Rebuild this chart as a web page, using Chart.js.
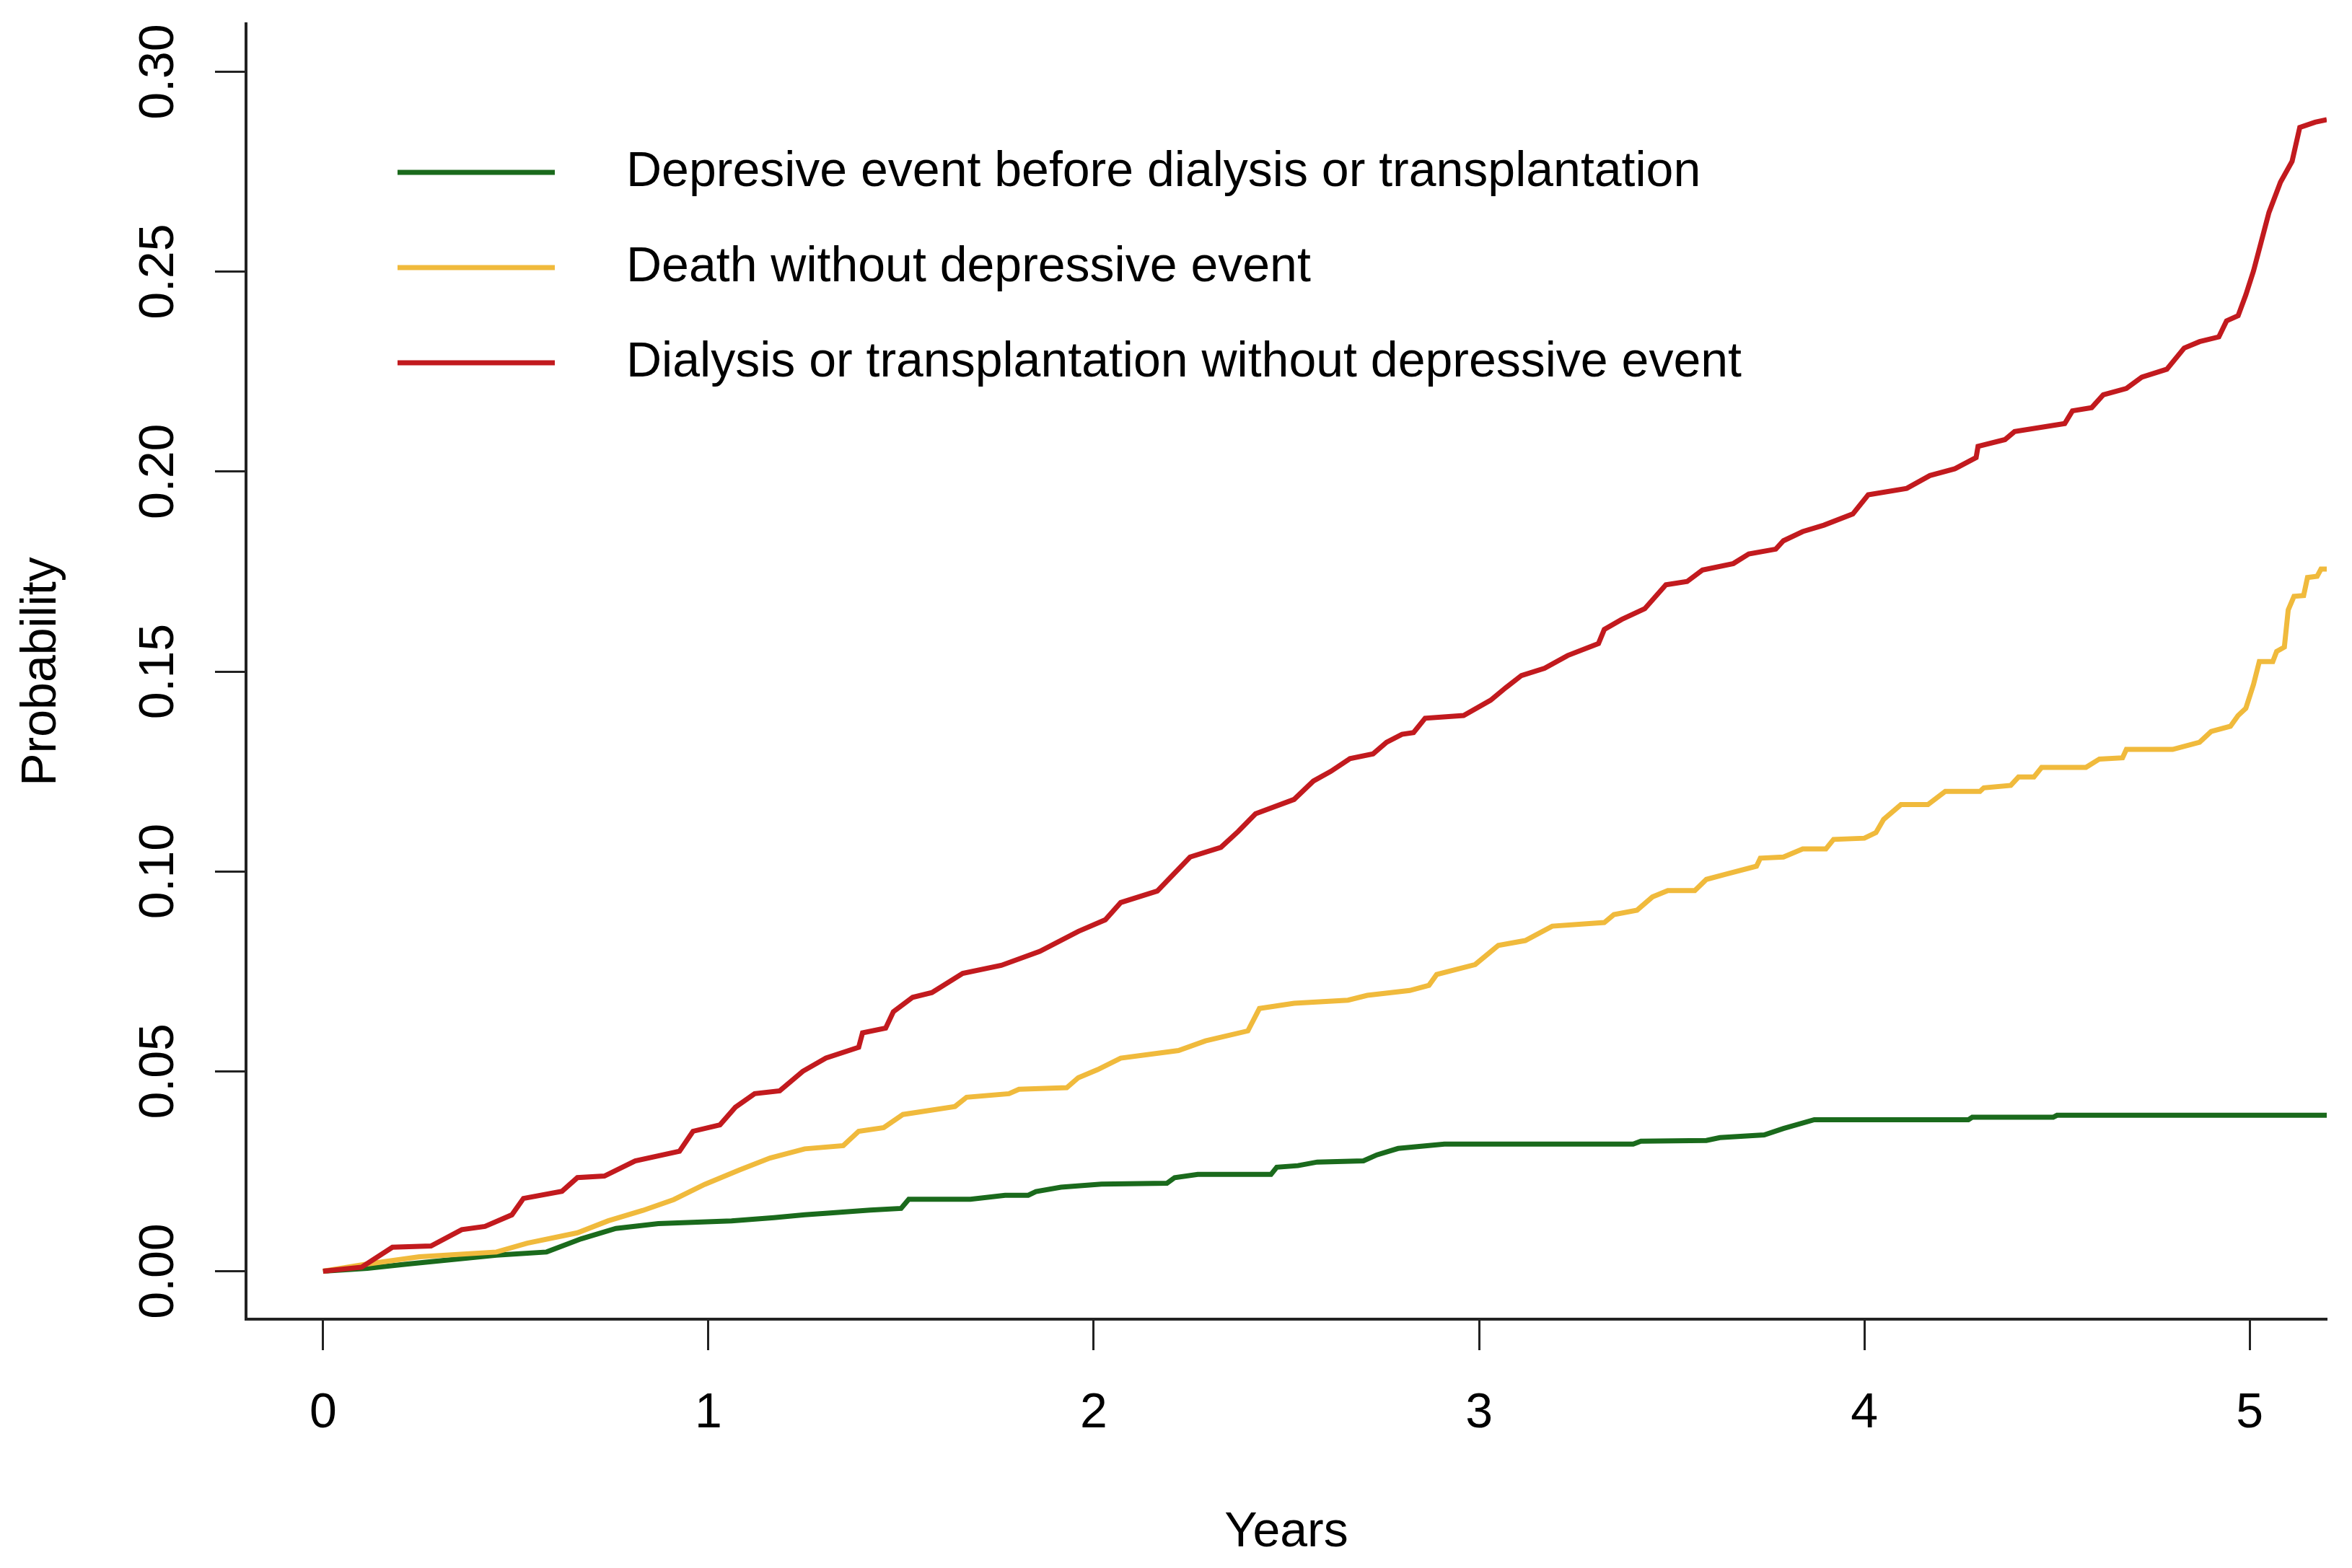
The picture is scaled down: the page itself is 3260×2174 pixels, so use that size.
<!DOCTYPE html>
<html>
<head>
<meta charset="utf-8">
<title>Cumulative incidence</title>
<script src="https://cdn.jsdelivr.net/npm/chart.js@4.4.0/dist/chart.umd.min.js"></script>
<style>
  html, body { margin: 0; padding: 0; background: #fff; }
  #myChart { display: block; }
</style>
</head>
<body>
<canvas id="myChart" width="3260" height="2174"></canvas>
<script>
// series labels (legend)
var seriesLabels = [
    'Depresive event before dialysis or transplantation',
    'Death without depressive event',
    'Dialysis or transplantation without depressive event'
];

// x axis ticks (years) and y axis ticks (probability)
var xTicks = [0, 1, 2, 3, 4, 5];
var yTicks = [0, 0.05, 0.10, 0.15, 0.20, 0.25, 0.30];

// green: depresive event
var greenYears = [0, 0.115, 0.22, 0.45, 0.58, 0.67, 0.76, 0.87, 1.06, 1.17, 1.25, 1.31, 1.42, 1.50, 1.52, 1.68, 1.77, 1.83, 1.85, 1.915,
    2.02, 2.19, 2.21, 2.27, 2.46, 2.475, 2.53, 2.58, 2.70, 2.735, 2.79, 2.91, 3.40, 3.42, 3.59, 3.625, 3.74, 3.79, 3.87, 4.27,
    4.28, 4.49, 4.50, 5.20];
var greenProb = [0, 0.0007, 0.0018, 0.004, 0.0048, 0.0081, 0.0107, 0.0119, 0.0126, 0.0134, 0.0141, 0.0145, 0.0153, 0.0157, 0.018, 0.018, 0.019, 0.019, 0.0199, 0.021,
    0.0218, 0.022, 0.0234, 0.0242, 0.0242, 0.026, 0.0264, 0.0273, 0.0276, 0.0291, 0.0307, 0.0318, 0.0318, 0.0325, 0.0327, 0.0334, 0.0341, 0.0357, 0.0379, 0.0379,
    0.0385, 0.0385, 0.039, 0.039];

// yellow: death without depressive event
var yellowYears = [0, 0.115, 0.25, 0.45, 0.53, 0.66, 0.74, 0.83, 0.91, 0.99, 1.08, 1.16, 1.25, 1.35, 1.39, 1.455, 1.505, 1.64, 1.67, 1.78,
    1.806, 1.93, 1.96, 2.01, 2.07, 2.22, 2.29, 2.40, 2.43, 2.52, 2.66, 2.71, 2.82, 2.87, 2.89, 2.99, 3.05, 3.12, 3.19, 3.325,
    3.35, 3.41, 3.45, 3.49, 3.56, 3.59, 3.64, 3.72, 3.73, 3.79, 3.84, 3.90, 3.92, 4.00, 4.03, 4.05, 4.095, 4.165, 4.21, 4.30,
    4.31, 4.38, 4.40, 4.44, 4.46, 4.575, 4.61, 4.67, 4.68, 4.80, 4.87, 4.90, 4.95, 4.97, 4.99, 5.01, 5.025, 5.06, 5.07, 5.09,
    5.10, 5.115, 5.14, 5.15, 5.175, 5.185, 5.20];
var yellowProb = [0, 0.0018, 0.0036, 0.0048, 0.007, 0.0096, 0.0126, 0.0152, 0.0179, 0.0217, 0.0253, 0.0283, 0.0306, 0.0314, 0.035, 0.0359, 0.0392, 0.0412, 0.0435, 0.0444,
    0.0455, 0.0459, 0.0484, 0.0504, 0.0533, 0.0552, 0.0576, 0.0601, 0.0657, 0.067, 0.0678, 0.069, 0.0702, 0.0715, 0.0742, 0.0767, 0.0815, 0.0827, 0.0863, 0.0872,
    0.0892, 0.0903, 0.0936, 0.0952, 0.0952, 0.098, 0.0993, 0.1013, 0.1033, 0.1036, 0.1056, 0.1056, 0.108, 0.1083, 0.1097, 0.113, 0.1167, 0.1167, 0.12, 0.12,
    0.1209, 0.1215, 0.1236, 0.1236, 0.126, 0.126, 0.1281, 0.1284, 0.1305, 0.1305, 0.1323, 0.135, 0.1363, 0.139, 0.1408, 0.1468, 0.1525, 0.1525, 0.155, 0.1561,
    0.1654, 0.1688, 0.169, 0.1735, 0.1738, 0.1756, 0.1756];

// red: dialysis or transplantation
var redYears = [0, 0.10, 0.18, 0.28, 0.36, 0.42, 0.49, 0.52, 0.62, 0.66, 0.73, 0.81, 0.925, 0.96, 1.03, 1.07, 1.12, 1.185, 1.245, 1.305,
    1.39, 1.40, 1.46, 1.48, 1.53, 1.58, 1.66, 1.76, 1.86, 1.96, 2.03, 2.07, 2.165, 2.25, 2.33, 2.375, 2.42, 2.52, 2.57, 2.615,
    2.665, 2.725, 2.76, 2.80, 2.83, 2.86, 2.96, 3.03, 3.07, 3.11, 3.17, 3.23, 3.31, 3.325, 3.37, 3.43, 3.485, 3.54, 3.58, 3.66,
    3.70, 3.77, 3.79, 3.84, 3.895, 3.97, 4.01, 4.11, 4.17, 4.235, 4.29, 4.295, 4.365, 4.39, 4.52, 4.54, 4.59, 4.62, 4.68, 4.72,
    4.785, 4.83, 4.87, 4.92, 4.94, 4.97, 4.99, 5.01, 5.03, 5.05, 5.08, 5.11, 5.13, 5.17, 5.20];
var redProb = [0, 0.001, 0.006, 0.0063, 0.0104, 0.0112, 0.0141, 0.0182, 0.020, 0.0234, 0.0238, 0.0276, 0.030, 0.035, 0.0366, 0.041, 0.0444, 0.0451, 0.050, 0.0533,
    0.056, 0.0596, 0.0608, 0.0649, 0.0685, 0.0697, 0.0745, 0.0765, 0.080, 0.085, 0.0879, 0.0922, 0.0951, 0.1036, 0.106, 0.110, 0.1144, 0.118, 0.1226, 0.125,
    0.1282, 0.1294, 0.1323, 0.1343, 0.1347, 0.1383, 0.139, 0.1428, 0.146, 0.149, 0.1508, 0.154, 0.157, 0.1605, 0.163, 0.1657, 0.1717, 0.1725, 0.1754, 0.177,
    0.1794, 0.1806, 0.1827, 0.185, 0.1866, 0.1894, 0.1942, 0.1958, 0.199, 0.2007, 0.2035, 0.2063, 0.208, 0.21, 0.212, 0.2152, 0.216, 0.2192, 0.2208, 0.2236,
    0.2256, 0.2309, 0.2325, 0.2337, 0.2377, 0.239, 0.2442, 0.2502, 0.2575, 0.2648, 0.2724, 0.2776, 0.2861, 0.2874, 0.288];

var colors = ['#1a6a1c', '#f0ba3c', '#c21a1e'];

function toPoints(xs, ys) {
    return xs.map(function (x, i) { return { x: x, y: ys[i] }; });
}

var FONT = "'Liberation Sans', Arial, sans-serif";
var AXIS = '#222222';
Chart.defaults.font.family = FONT;
Chart.defaults.color = '#000';

// R style legend drawn inside the plot
var rLegend = {
    id: 'rLegend',
    afterDraw: function (chart) {
        var c = chart.ctx;
        var rows = [239, 371, 503];
        c.save();
        chart.data.datasets.forEach(function (ds, i) {
            c.strokeStyle = ds.borderColor;
            c.lineWidth = 7;
            c.beginPath();
            c.moveTo(551, rows[i]);
            c.lineTo(769, rows[i]);
            c.stroke();
            c.fillStyle = '#000';
            c.font = '68px ' + FONT;
            c.textAlign = 'left';
            c.textBaseline = 'middle';
            c.fillText(ds.label, 868, rows[i]);
        });
        c.restore();
    }
};

var ctx = document.getElementById('myChart').getContext('2d');
var myChart = new Chart(ctx, {
    type: 'line',
    data: {
        datasets: [
            { label: seriesLabels[0], data: toPoints(greenYears, greenProb), borderColor: colors[0], order: 3 },
            { label: seriesLabels[1], data: toPoints(yellowYears, yellowProb), borderColor: colors[1], order: 2 },
            { label: seriesLabels[2], data: toPoints(redYears, redProb), borderColor: colors[2], order: 1 }
        ]
    },
    options: {
        responsive: false,
        devicePixelRatio: 1,
        animation: false,
        events: [],
        layout: { padding: { left: 0, top: 33, right: 35, bottom: 0 } },
        elements: {
            line: { borderWidth: 7, tension: 0, fill: false, borderJoinStyle: 'miter' },
            point: { radius: 0 }
        },
        plugins: {
            legend: { display: false },
            tooltip: { enabled: false }
        },
        scales: {
            x: {
                type: 'linear',
                min: -0.2,
                max: 5.2,
                afterBuildTicks: function (scale) {
                    scale.ticks = xTicks.map(function (v) { return { value: v }; });
                },
                afterFit: function (scale) {
                    scale.height = 345;
                    scale.paddingLeft = 0; scale.paddingRight = 0;
                    scale.paddingTop = 0; scale.paddingBottom = 0;
                },
                grid: { drawOnChartArea: false, drawTicks: true, tickLength: 43, tickWidth: 3, tickColor: AXIS },
                border: { display: true, width: 4, color: AXIS },
                ticks: {
                    padding: 47,
                    maxRotation: 0,
                    font: { size: 68 },
                    color: '#000',
                    callback: function (v) { return String(v); }
                },
                title: { display: true, text: 'Years', font: { size: 68 }, color: '#000', padding: { top: 0, bottom: 8 } }
            },
            y: {
                type: 'linear',
                min: -0.012,
                max: 0.312,
                afterBuildTicks: function (scale) {
                    scale.ticks = yTicks.map(function (v) { return { value: v }; });
                },
                afterFit: function (scale) {
                    scale.width = 341;
                    scale.paddingLeft = 0; scale.paddingRight = 0;
                    scale.paddingTop = 0; scale.paddingBottom = 0;
                },
                grid: { drawOnChartArea: false, drawTicks: true, tickLength: 43, tickWidth: 3, tickColor: AXIS },
                border: { display: true, width: 4, color: AXIS },
                ticks: {
                    padding: 11,
                    minRotation: 90,
                    maxRotation: 90,
                    crossAlign: 'center',
                    font: { size: 68 },
                    color: '#000',
                    callback: function (v) { return v.toFixed(2); }
                },
                title: { display: true, text: 'Probability', font: { size: 68 }, color: '#000', padding: { top: 17, bottom: 0 } }
            }
        }
    },
    plugins: [rLegend]
});
</script>
</body>
</html>
